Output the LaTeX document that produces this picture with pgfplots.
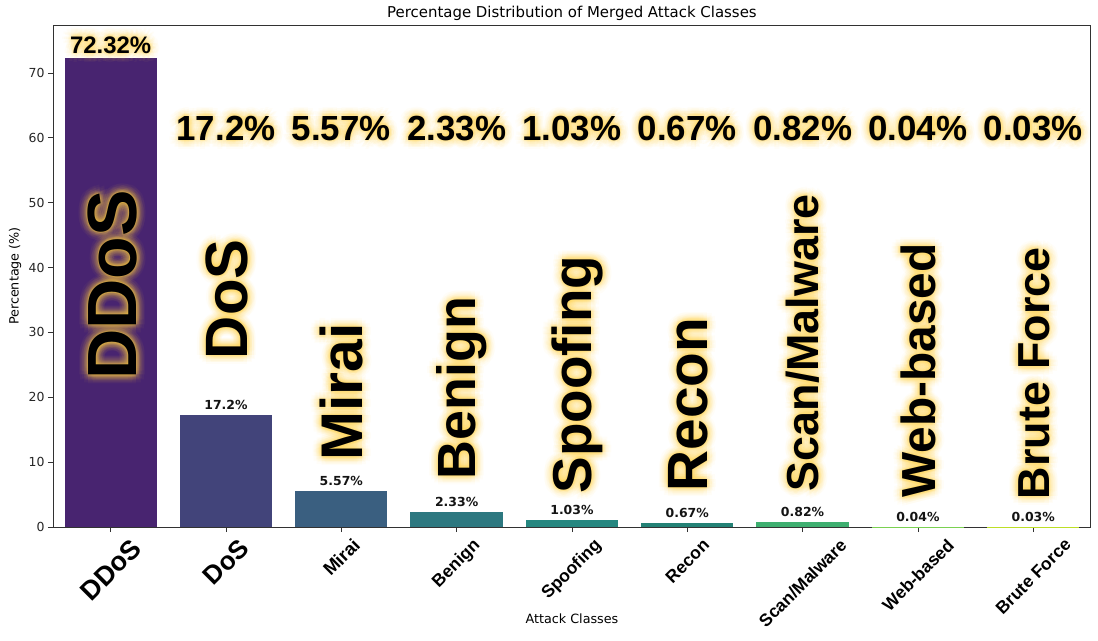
\documentclass[border=0pt]{standalone}
\usepackage{fontspec}
\setmainfont{DejaVu Sans}
\newfontfamily\lib{Liberation Sans}
\usepackage{pgfplots}
\pgfplotsset{compat=1.18}

\definecolor{c0}{RGB}{72,36,112}
\definecolor{c1}{RGB}{66,68,122}
\definecolor{c2}{RGB}{58,95,128}
\definecolor{c3}{RGB}{45,120,128}
\definecolor{c4}{RGB}{38,135,128}
\definecolor{c5}{RGB}{36,130,118}
\definecolor{c6}{RGB}{62,175,112}
\definecolor{c7}{RGB}{122,209,81}
\definecolor{c8}{RGB}{189,223,38}
\definecolor{glowc}{RGB}{255,208,70}
\definecolor{axgray}{RGB}{50,50,50}

\newcommand{\gl}[3]{%
  \foreach \gr/\go in {9bp/0.035,7bp/0.04,5bp/0.045,3bp/0.055,1.5bp/0.065}{%
    \foreach \ga in {0,30,...,330}{%
      \node[#2, text=glowc, text opacity=\go] at ([shift={(\ga:\gr)}]#1) {#3};
    }%
  }%
  \node[#2, text=black] at (#1) {#3};
}
\tikzset{big/.style={rotate=90, anchor=base west, inner sep=0pt, outer sep=0pt},
         xl/.style={rotate=45, anchor=center, inner sep=0pt, text=black}}
\newcommand{\bigf}[1]{\lib\bfseries\fontsize{#1}{#1}\selectfont}

\begin{document}
\begin{tikzpicture}
\begin{axis}[
  scale only axis, width=1038bp, height=502bp,
  xmin=-0.5, xmax=8.5, ymin=0, ymax=77.4,
  xtick={0,1,2,3,4,5,6,7,8}, xticklabels={},
  ytick={0,10,20,30,40,50,60,70},
  tick align=outside, xtick pos=bottom, ytick pos=left,
  major tick length=5bp,
  tick style={axgray, line width=0.8bp},
  axis line style={axgray, line width=0.8bp},
  ticklabel style={font=\fontsize{12.5}{13}\selectfont, text=black!85},
  /pgf/number format/assume math mode=true,
  title={Percentage Distribution of Merged Attack Classes},
  title style={at={(axis description cs:0.5,1)}, anchor=center, yshift=6bp, font=\fontsize{15}{16}\selectfont},
  xlabel={Attack Classes},
  xlabel style={at={(axis description cs:0.5,0)}, anchor=center, yshift=-92bp, font=\fontsize{12.8}{13}\selectfont},
  ylabel={Percentage (\%)},
  ylabel style={at={(axis description cs:-0.0366,0.5)}, anchor=center, font=\fontsize{12.8}{13}\selectfont},
  clip=false,
]
\addplot[ybar, bar width=0.8, bar shift=0pt, fill=c0, draw=none] coordinates {(0,72.32)};
\addplot[ybar, bar width=0.8, bar shift=0pt, fill=c1, draw=none] coordinates {(1,17.2)};
\addplot[ybar, bar width=0.8, bar shift=0pt, fill=c2, draw=none] coordinates {(2,5.57)};
\addplot[ybar, bar width=0.8, bar shift=0pt, fill=c3, draw=none] coordinates {(3,2.33)};
\addplot[ybar, bar width=0.8, bar shift=0pt, fill=c4, draw=none] coordinates {(4,1.03)};
\addplot[ybar, bar width=0.8, bar shift=0pt, fill=c5, draw=none] coordinates {(5,0.67)};
\addplot[ybar, bar width=0.8, bar shift=0pt, fill=c6, draw=none] coordinates {(6,0.82)};
\addplot[ybar, bar width=0.8, bar shift=0pt, fill=c7, draw=none] coordinates {(7,0.04)};
\addplot[ybar, bar width=0.8, bar shift=0pt, fill=c8, draw=none] coordinates {(8,0.03)};
% value points
\coordinate (v0) at (axis cs:0,72.32);
\coordinate (v1) at (axis cs:1,17.2);
\coordinate (v2) at (axis cs:2,5.57);
\coordinate (v3) at (axis cs:3,2.33);
\coordinate (v4) at (axis cs:4,1.03);
\coordinate (v5) at (axis cs:5,0.67);
\coordinate (v6) at (axis cs:6,0.82);
\coordinate (v7) at (axis cs:7,0.04);
\coordinate (v8) at (axis cs:8,0.03);
% big rotated name starts
\coordinate (b0) at (axis cs:0,22.7);
\coordinate (b1) at (axis cs:1,25.9);
\coordinate (b2) at (axis cs:2,10.2);
\coordinate (b3) at (axis cs:3,7.4);
\coordinate (b4) at (axis cs:4,5.2);
\coordinate (b5) at (axis cs:5,5.5);
\coordinate (b6) at (axis cs:6,5.55);
\coordinate (b7) at (axis cs:7,4.5);
\coordinate (b8) at (axis cs:8,4.3);
% top percentage row
\coordinate (t1) at (axis cs:1,61.5);
\coordinate (t2) at (axis cs:2,61.5);
\coordinate (t3) at (axis cs:3,61.5);
\coordinate (t4) at (axis cs:4,61.5);
\coordinate (t5) at (axis cs:5,61.5);
\coordinate (t6) at (axis cs:6,61.5);
\coordinate (t7) at (axis cs:7,61.5);
\coordinate (t8) at (axis cs:8,61.5);
% x ticks
\coordinate (x0) at (axis cs:0,0);
\coordinate (x1) at (axis cs:1,0);
\coordinate (x2) at (axis cs:2,0);
\coordinate (x3) at (axis cs:3,0);
\coordinate (x4) at (axis cs:4,0);
\coordinate (x5) at (axis cs:5,0);
\coordinate (x6) at (axis cs:6,0);
\coordinate (x7) at (axis cs:7,0);
\coordinate (x8) at (axis cs:8,0);
\end{axis}

% small value labels
\foreach \i/\t in {1/17.2,2/5.57,3/2.33,4/1.03,5/0.67,6/0.82,7/0.04,8/0.03}{
  \node[anchor=base, inner sep=0pt, text=black!92, font=\bfseries\fontsize{12.5}{13}\selectfont] at ([yshift=5.5bp]v\i) {\t\%};
}

% shifted starts of big labels (centre caps on bars)
\coordinate (B0) at ([xshift=26bp]b0);
\coordinate (B1) at ([xshift=22bp]b1);
\coordinate (B2) at ([xshift=21bp]b2);
\coordinate (B3) at ([xshift=19.3bp]b3);
\coordinate (B4) at ([xshift=19.7bp]b4);
\coordinate (B5) at ([xshift=20.4bp]b5);
\coordinate (B6) at ([xshift=16.1bp]b6);
\coordinate (B7) at ([xshift=17.2bp]b7);
\coordinate (B8) at ([xshift=16.1bp]b8);
\gl{B0}{big, font=\bigf{70}}{DDoS}
\gl{B1}{big, font=\bigf{60}}{DoS}
\gl{B2}{big, font=\bigf{59}}{Mirai}
\gl{B3}{big, font=\bigf{54}}{Benign}
\gl{B4}{big, font=\bigf{55}}{Spoofing}
\gl{B5}{big, font=\bigf{57}}{Recon}
\gl{B6}{big, font=\bigf{45}}{Scan/Malware}
\gl{B7}{big, font=\bigf{48}}{Web-based}
\gl{B8}{big, font=\bigf{45}}{Brute Force}

% top percentage row
\coordinate (T0) at ([yshift=4.5bp]v0);
\gl{T0}{anchor=base, inner sep=0pt, font=\bigf{24}}{72.32\%}
\gl{t1}{anchor=center, inner sep=0pt, font=\bigf{35}}{17.2\%}
\gl{t2}{anchor=center, inner sep=0pt, font=\bigf{35}}{5.57\%}
\gl{t3}{anchor=center, inner sep=0pt, font=\bigf{35}}{2.33\%}
\gl{t4}{anchor=center, inner sep=0pt, font=\bigf{35}}{1.03\%}
\gl{t5}{anchor=center, inner sep=0pt, font=\bigf{35}}{0.67\%}
\gl{t6}{anchor=center, inner sep=0pt, font=\bigf{35}}{0.82\%}
\gl{t7}{anchor=center, inner sep=0pt, font=\bigf{35}}{0.04\%}
\gl{t8}{anchor=center, inner sep=0pt, font=\bigf{35}}{0.03\%}

% x tick labels
\node[xl, font=\bigf{27}] at ([yshift=-43bp]x0) {DDoS};
\node[xl, font=\bigf{26}] at ([yshift=-35bp]x1) {DoS};
\node[xl, font=\bigf{18.5}] at ([yshift=-30bp]x2) {Mirai};
\node[xl, font=\bigf{17.5}] at ([yshift=-37bp]x3) {Benign};
\node[xl, font=\bigf{17.5}] at ([yshift=-43bp]x4) {Spoofing};
\node[xl, font=\bigf{17.5}] at ([yshift=-34bp]x5) {Recon};
\node[xl, font=\bigf{17.5}] at ([yshift=-56bp]x6) {Scan/Malware};
\node[xl, font=\bigf{17.5}] at ([yshift=-48bp]x7) {Web-based};
\node[xl, font=\bigf{17.5}] at ([yshift=-49.5bp]x8) {Brute Force};

\pgfresetboundingbox
\useasboundingbox ([xshift=-53bp,yshift=-114bp]current axis.south west) rectangle ++(1098bp,641bp);
\end{tikzpicture}
\end{document}
